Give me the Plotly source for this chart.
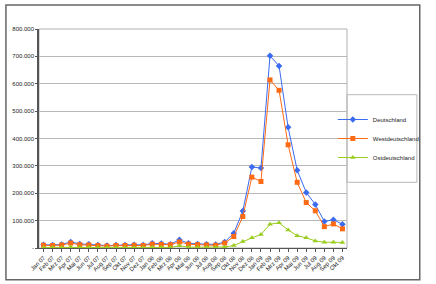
import plotly.graph_objects as go

months = ["Jan 07", "Feb 07", "Mrz 07", "Apr 07", "Mai 07", "Jun 07", "Jul 07", "Aug 07",
          "Sep 07", "Okt 07", "Nov 07", "Dez 07", "Jan 08", "Feb 08", "Mrz 08", "Apr 08",
          "Mai 08", "Jun 08", "Jul 08", "Aug 08", "Sep 08", "Okt 08", "Nov 08", "Dez 08",
          "Jan 09", "Feb 09", "Mrz 09", "Apr 09", "Mai 09", "Jun 09", "Jul 09", "Aug 09",
          "Sep 09", "Okt 09"]

deutschland = [12000, 11000, 13000, 22000, 15000, 14000, 11000, 9000, 11000, 11000, 12000, 11000,
               17000, 16000, 14000, 30000, 17000, 15000, 14000, 13000, 22000, 54000, 135000, 296000,
               292000, 702000, 665000, 441000, 284000, 203000, 159000, 97000, 103000, 87000]
westdeutschland = [10000, 9000, 11000, 18000, 12000, 11000, 9000, 7000, 9000, 9000, 10000, 9000,
                   14000, 13000, 12000, 22000, 14000, 12000, 11000, 10000, 18000, 42000, 115000, 259000,
                   243000, 614000, 576000, 377000, 240000, 166000, 136000, 78000, 88000, 70000]
ostdeutschland = [2000, 2000, 2000, 4000, 3000, 3000, 2000, 2000, 2000, 2000, 2000, 2000,
                  3000, 3000, 2000, 8000, 3000, 3000, 3000, 3000, 4000, 9000, 24000, 37000,
                  49000, 87000, 92000, 66000, 45000, 37000, 26000, 21000, 21000, 20000]

y_tickvals = [0, 100000, 200000, 300000, 400000, 500000, 600000, 700000, 800000]
y_ticktext = ["-", "100.000", "200.000", "300.000", "400.000", "500.000", "600.000", "700.000", "800.000"]

W, H = 436, 284
L, R, T, B = 32, 78, 29, 35
pw, ph = W - L - R, H - T - B

def px(x):
    return (x - L) / pw

def py(y):
    return (H - B - y) / ph

fig = go.Figure()
fig.add_trace(go.Scatter(x=months, y=deutschland, name="Deutschland", mode="lines+markers",
                         line=dict(color="#3A6BF0", width=1),
                         marker=dict(symbol="diamond", size=5, color="#3A6BF0")))
fig.add_trace(go.Scatter(x=months, y=westdeutschland, name="Westdeutschland", mode="lines+markers",
                         line=dict(color="#FF6A13", width=1),
                         marker=dict(symbol="square", size=5, color="#FF6A13")))
fig.add_trace(go.Scatter(x=months, y=ostdeutschland, name="Ostdeutschland", mode="lines+markers",
                         line=dict(color="#9ACD1E", width=1),
                         marker=dict(symbol="triangle-up", size=5, color="#9ACD1E")))

font = dict(family="Liberation Sans, Arial, sans-serif", size=6, color="#222222")

fig.update_layout(
    width=W, height=H,
    margin=dict(l=L, r=R, t=T, b=B, pad=0),
    paper_bgcolor="white", plot_bgcolor="white",
    font=font,
    showlegend=True,
    legend=dict(x=px(343), y=py(139), xanchor="left", yanchor="middle",
                bgcolor="rgba(0,0,0,0)", borderwidth=0, font=font,
                itemwidth=30, tracegroupgap=0),
    xaxis=dict(type="category", range=[-0.5, len(months) - 0.5], tickangle=-45,
               showgrid=False, showline=True, linecolor="#555555", linewidth=1,
               ticks="outside", ticklen=3, tickcolor="#555555", tickfont=font,
               zeroline=False),
    yaxis=dict(range=[0, 800000], tickvals=y_tickvals, ticktext=y_ticktext,
               showgrid=True, gridcolor="#B8B8B8", gridwidth=1,
               showline=True, linecolor="#555555", linewidth=1.5,
               ticks="outside", ticklen=2, tickcolor="#555555", tickfont=font,
               zeroline=False),
    shapes=[
        # plot area border (top/right)
        dict(type="rect", xref="paper", yref="paper", x0=0, x1=1, y0=0, y1=1,
             line=dict(color="#B0B0B0", width=1), layer="below"),
        # legend box
        dict(type="rect", xref="paper", yref="paper", x0=px(358), x1=px(432), y0=py(183), y1=py(95),
             line=dict(color="#B8B8B8", width=1)),
        # outer chart frame
        dict(type="rect", xref="paper", yref="paper", x0=px(-3), x1=px(435), y0=py(281), y1=py(5),
             line=dict(color="#666666", width=1.5)),
    ],
)

fig.write_html("out.html")
